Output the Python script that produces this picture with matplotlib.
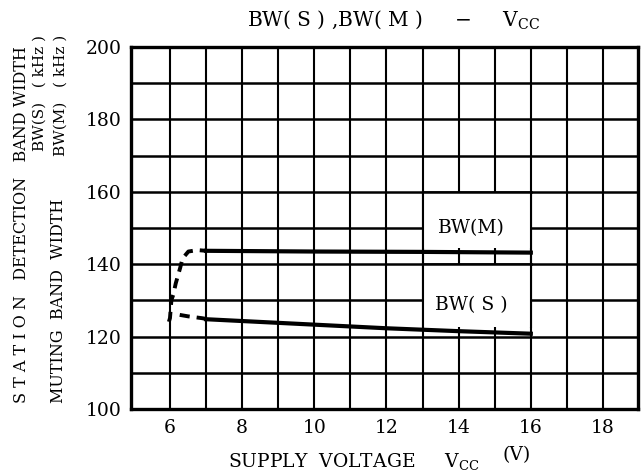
import matplotlib
matplotlib.use('Agg')
import matplotlib.pyplot as plt
from matplotlib.patches import Rectangle

plt.rcParams['font.family'] = 'DejaVu Serif'
plt.rcParams['mathtext.fontset'] = 'dejavuserif'

# данные
vcc_m_dash = [5.97, 6.0, 6.04, 6.09, 6.16, 6.28, 6.35, 6.51, 6.76, 7.0]
bw_m_dash = [124.1, 125.1, 130.1, 131.5, 134.7, 138.9, 141.6, 143.5, 143.9, 143.7]
vcc_m = [7, 10, 13, 16]
bw_m = [143.7, 143.5, 143.4, 143.2]

vcc_s_dash = [6.27, 6.5, 6.88, 7.0]
bw_s_dash = [126.0, 125.6, 125.1, 124.9]
vcc_s = [7, 10, 12, 14, 16]
bw_s = [124.8, 123.3, 122.3, 121.5, 120.8]

x_ticks = [6, 8, 10, 12, 14, 16, 18]
y_ticks = [100, 120, 140, 160, 180, 200]
x_grid = list(range(6, 19))
y_grid = list(range(110, 200, 10))

fig = plt.figure(figsize=(6.41, 4.74), dpi=100)
ax = fig.add_axes([131/641, 1 - 409/474, 507/641, 362/474])
ax.set_xlim(4.92, 18.97)
ax.set_ylim(100, 200)

for x in x_grid:
    ax.axvline(x, color='black', lw=1.5, zorder=1)
for y in y_grid:
    ax.axhline(y, color='black', lw=1.8, zorder=1)

# белые поля под подписи кривых
ax.add_patch(Rectangle((13, 144.4), 3, 15.6, facecolor='white', edgecolor='none', zorder=2))
ax.add_patch(Rectangle((13, 122.7), 3, 17.3, facecolor='white', edgecolor='none', zorder=2))
ax.plot([13, 13], [122.7, 160], color='black', lw=1.5, zorder=2)
ax.plot([16, 16], [122.7, 160], color='black', lw=1.5, zorder=2)
ax.plot([13, 16], [140, 140], color='black', lw=1.8, zorder=2)
ax.plot([13, 16], [160, 160], color='black', lw=1.8, zorder=2)

ax.plot(vcc_m_dash, bw_m_dash, color='black', lw=2.8, ls=(0, (2.6, 1.8)), zorder=3)
ax.plot(vcc_m, bw_m, color='black', lw=3.0, zorder=3)
ax.plot(vcc_s_dash, bw_s_dash, color='black', lw=2.8, ls=(0, (2.6, 1.8)), zorder=3)
ax.plot(vcc_s, bw_s, color='black', lw=3.0, zorder=3)

ax.text(14.36, 150, 'BW(M)', ha='center', va='center', fontsize=13.5, zorder=4)
ax.text(14.36, 128.7, 'BW( S )', ha='center', va='center', fontsize=13.5, zorder=4)

ax.set_xticks(x_ticks)
ax.set_yticks(y_ticks)
ax.tick_params(length=0, labelsize=13.5, pad=7)
for s in ax.spines.values():
    s.set_linewidth(2.4)

fig.text(394/641, 1 - 20/474, r'BW( S ) ,BW( M )     $-$     V$_{\rm CC}$',
         ha='center', va='center', fontsize=14.5)
fig.text(228/641, 1 - 461/474, r'SUPPLY  VOLTAGE     V$_{\rm CC}$',
         ha='left', va='center', fontsize=13.5)
fig.text(531/641, 1 - 455/474, '(V)', ha='right', va='center', fontsize=13.5)

fig.text(22/641, 1 - 403/474, 'S T A T I O N   DETECTION   BAND WIDTH',
         rotation=90, ha='center', va='bottom', fontsize=11.5)
fig.text(40/641, 1 - 35/474, 'BW(S)   ( kHz )',
         rotation=90, ha='center', va='top', fontsize=11)
fig.text(59/641, 1 - 403/474, 'MUTING  BAND  WIDTH',
         rotation=90, ha='center', va='bottom', fontsize=11.5)
fig.text(61/641, 1 - 35/474, 'BW(M)   ( kHz )',
         rotation=90, ha='center', va='top', fontsize=11)

fig.savefig('out.png', dpi=100)
